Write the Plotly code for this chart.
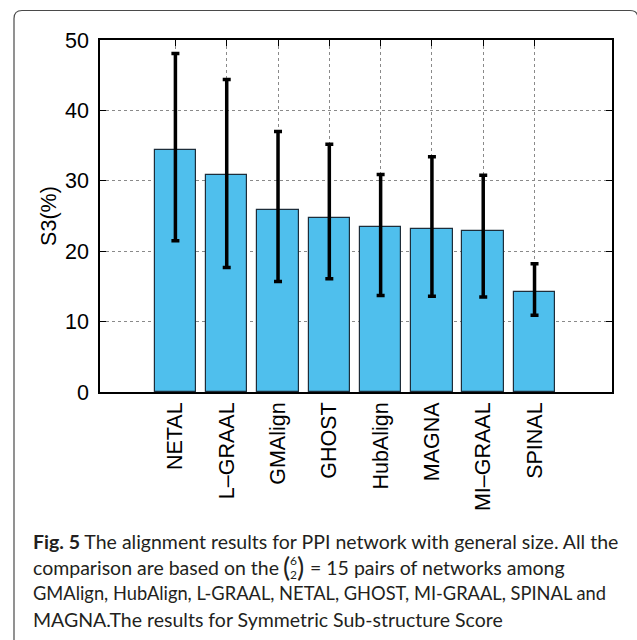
import plotly.graph_objects as go

# Aligner names, mean S3 score (%) and error bar extents
methods = ["NETAL", "L\u2013GRAAL", "GMAlign", "GHOST", "HubAlign", "MAGNA", "MI\u2013GRAAL", "SPINAL"]
s3_mean = [34.4, 30.8, 25.9, 24.7, 23.5, 23.1, 22.8, 14.2]
err_plus = [13.7, 13.6, 11.1, 10.5, 7.4, 10.3, 8.0, 4.0]
err_minus = [12.9, 13.1, 10.2, 8.6, 9.8, 9.5, 9.3, 3.3]
y_ticks = [0, 10, 20, 30, 40, 50]

W, H = 637, 640
L, R, T, B = 100, 612, 39.5, 391.7

def px(x):
    return (x - L) / (R - L)

def py(y):
    return (B - y) / (B - T)

positions = list(range(1, len(methods) + 1))

fig = go.Figure()
fig.add_trace(go.Bar(
    x=positions, y=s3_mean, width=0.81,
    marker=dict(color="#4FBFED", line=dict(color="#1d2d3a", width=1.2)),
    error_y=dict(type="data", symmetric=False, array=err_plus, arrayminus=err_minus,
                 color="black", thickness=3.5, width=4),
    showlegend=False,
))
# invisible trace carrying the top x axis (ticks only)
fig.add_trace(go.Scatter(x=positions, y=s3_mean, xaxis="x2", mode="markers",
                         marker=dict(opacity=0), showlegend=False, hoverinfo="skip"))

axis_font = dict(family="Liberation Sans, Arial, sans-serif", size=21.5, color="black")
xr = [-0.47, 9.51]
fig.update_layout(
    width=W, height=H,
    margin=dict(l=L, r=W - R, t=T, b=H - B, pad=0),
    paper_bgcolor="white", plot_bgcolor="white",
    bargap=0,
    xaxis=dict(range=xr, tickmode="array", tickvals=positions, ticktext=methods,
               tickangle=-90, tickfont=axis_font, ticks="", showline=True,
               linecolor="black", linewidth=1.5, mirror=True,
               showgrid=True, gridcolor="#8a8a8a", griddash="dot", gridwidth=1,
               zeroline=False, ticklabelstandoff=0),
    xaxis2=dict(range=xr, overlaying="x", side="top", tickmode="array",
                tickvals=positions, showticklabels=False, ticks="inside",
                ticklen=6, tickwidth=1, tickcolor="black", showgrid=False,
                showline=False, zeroline=False),
    yaxis=dict(range=[0, 50], tickmode="array", tickvals=y_ticks, tickfont=axis_font,
               ticks="inside", ticklen=6, tickwidth=1, tickcolor="black",
               showline=True, linecolor="black", linewidth=1.5, mirror="ticks",
               showgrid=True, gridcolor="#8a8a8a", griddash="dot", gridwidth=1,
               zeroline=False, ticklabelstandoff=5,
               title=dict(text="S3(%)", font=axis_font, standoff=3)),
)

# rounded frame around the whole figure
x0, x1 = px(14), px(638)
y0, y1 = py(10), py(660)
rx, ry = 8 / (R - L), 8 / (B - T)
frame = (f"M {x0},{y1} L {x0},{y0 - ry} Q {x0},{y0} {x0 + rx},{y0} "
         f"L {x1 - rx},{y0} Q {x1},{y0} {x1},{y0 - ry} L {x1},{y1}")
fig.add_shape(type="path", path=frame, xref="paper", yref="paper",
              line=dict(color="#4a4a4a", width=1.2))

# caption
cap_font = dict(family="Lato, Open Sans, sans-serif", size=19.5, color="#231f20")
line_y = [541, 567, 593, 619]
def cap(text, x, y, font=cap_font):
    fig.add_annotation(text=text, x=px(x), y=py(y), xref="paper", yref="paper",
                       xanchor="left", yanchor="middle", showarrow=False, font=font)

cap("<b>Fig. 5</b> The alignment results for PPI network with general size. All the", 31, line_y[0])
cap("comparison are based on the", 31, line_y[1])
paren_font = dict(cap_font, size=27)
small_font = dict(cap_font, size=12)
cap("(", 281, line_y[1] - 1, font=paren_font)
cap("6", 288, line_y[1] - 7, font=small_font)
cap("2", 288, line_y[1] + 7, font=small_font)
cap(")", 295, line_y[1] - 1, font=paren_font)
cap("= 15 pairs of networks among", 308, line_y[1])
cap("GMAlign, HubAlign, L-GRAAL, NETAL, GHOST, MI-GRAAL, SPINAL and", 31, line_y[2],
    font=dict(cap_font, size=18.3))
cap("MAGNA.The results for Symmetric Sub-structure Score", 31, line_y[3])

fig.write_html("out.html")
